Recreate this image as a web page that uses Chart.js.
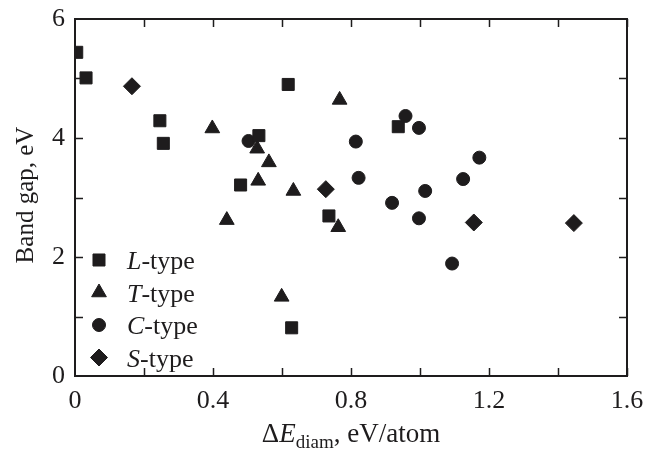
<!DOCTYPE html>
<html lang="en">
<head>
  <meta charset="UTF-8" />
  <title>Band gap vs diamond energy</title>
  <script src="https://cdn.jsdelivr.net/npm/chart.js"></script>
  <style>
    html, body {
      margin: 0;
      padding: 0;
      background: #fff;
    }
    #wrap {
      width: 646px;
      height: 450px;
    }
  </style>
</head>
<body>

<div id="wrap"><canvas id="gapChart" width="646" height="450"></canvas></div>

<script>
  // values
  const lX = [0.005, 0.032, 0.246, 0.256, 0.480, 0.533, 0.618, 0.736, 0.937, 0.628];
  const lY = [5.44, 5.01, 4.29, 3.91, 3.21, 4.04, 4.90, 2.69, 4.19, 0.81];

  const tX = [0.398, 0.528, 0.562, 0.531, 0.633, 0.440, 0.767, 0.763, 0.599];
  const tY = [4.16, 3.82, 3.59, 3.28, 3.11, 2.62, 4.64, 2.50, 1.33];

  const cX = [0.503, 0.814, 0.958, 0.997, 0.822, 1.172, 1.125, 1.015, 0.919, 0.997, 1.093];
  const cY = [3.95, 3.94, 4.37, 4.17, 3.33, 3.67, 3.31, 3.11, 2.91, 2.65, 1.89];

  const sX = [0.165, 0.727, 1.156, 1.446];
  const sY = [4.87, 3.14, 2.58, 2.57];

  const xLabels = [0, 0.4, 0.8, 1.2, 1.6];
  const yLabels = [0, 2, 4, 6];

  const legendNames = ["L", "T", "C", "S"];

  const ink = "#1e1c1d";
  const serif = "'Liberation Serif', 'DejaVu Serif', serif";

  function pts(xs, ys) {
    return xs.map((x, i) => ({ x: x, y: ys[i] }));
  }

  const series = [
    { name: "L", data: pts(lX, lY), style: "rect", r: 8.5 },
    { name: "T", data: pts(tX, tY), style: "triangle", r: 8.5 },
    { name: "C", data: pts(cX, cY), style: "circle", r: 6.5 },
    { name: "S", data: pts(sX, sY), style: "rectRot", r: 8.5 }
  ];

  const frame = {
    id: "frame",
    afterDraw(chart) {
      const ctx = chart.ctx;
      const a = chart.chartArea;
      const xs = chart.scales.x;
      const ys = chart.scales.y;
      ctx.save();
      ctx.strokeStyle = ink;
      ctx.lineWidth = 2;
      ctx.strokeRect(a.left, a.top, a.right - a.left, a.bottom - a.top);

      // inward ticks
      const tl = 8;
      ctx.lineWidth = 1.5;
      ctx.beginPath();
      for (let v = 0.2; v < 1.6; v += 0.2) {
        const px = Math.round(xs.getPixelForValue(v)) + 0.5;
        ctx.moveTo(px, a.bottom); ctx.lineTo(px, a.bottom - tl);
        ctx.moveTo(px, a.top); ctx.lineTo(px, a.top + tl);
      }
      for (let v = 1; v < 6; v += 1) {
        const py = Math.round(ys.getPixelForValue(v)) + 0.5;
        ctx.moveTo(a.left, py); ctx.lineTo(a.left + tl, py);
        ctx.moveTo(a.right, py); ctx.lineTo(a.right - tl, py);
      }
      ctx.stroke();

      // legend
      const lx = 99, ly0 = 260, dy = 32.5;
      series.forEach((s, i) => {
        const y = ly0 + i * dy;
        ctx.fillStyle = ink;
        ctx.strokeStyle = ink;
        ctx.lineWidth = 1;
        Chart.helpers.drawPoint(ctx, { pointStyle: s.style, radius: s.r, borderWidth: 1 }, lx, y);
        ctx.font = "italic 26px " + serif;
        ctx.textBaseline = "alphabetic";
        ctx.textAlign = "left";
        ctx.fillText(legendNames[i], 127, y + 9);
        const w = ctx.measureText(legendNames[i]).width;
        ctx.font = "26px " + serif;
        ctx.fillText("-type", 127 + w, y + 9);
      });

      // x title: ΔE_diam, eV/atom
      const parts = [
        { t: "\u0394", f: "27px " + serif, dy: 0 },
        { t: "E", f: "italic 27px " + serif, dy: 0 },
        { t: "diam", f: "19px " + serif, dy: 6 },
        { t: ", eV/atom", f: "27px " + serif, dy: 0 }
      ];
      let total = 0;
      parts.forEach(p => { ctx.font = p.f; p.w = ctx.measureText(p.t).width; total += p.w; });
      let x0 = (a.left + a.right) / 2 - total / 2;
      const base = 442;
      ctx.fillStyle = ink;
      ctx.textAlign = "left";
      ctx.textBaseline = "alphabetic";
      parts.forEach(p => {
        ctx.font = p.f;
        ctx.fillText(p.t, x0, base + p.dy);
        x0 += p.w;
      });

      // y title
      ctx.translate(33, 195);
      ctx.rotate(-Math.PI / 2);
      ctx.font = "25px " + serif;
      ctx.textAlign = "center";
      ctx.textBaseline = "alphabetic";
      ctx.fillText("Band gap, eV", 0, 0);
      ctx.restore();
    }
  };

  const ctx = document.getElementById("gapChart").getContext("2d");

  new Chart(ctx, {
    type: "scatter",
    data: {
      datasets: series.map(s => ({
        label: s.name + "-type",
        data: s.data,
        pointStyle: s.style,
        pointRadius: s.r,
        pointHoverRadius: s.r,
        backgroundColor: ink,
        borderColor: ink,
        borderWidth: 1,
        clip: 0
      }))
    },
    options: {
      responsive: false,
      animation: false,
      layout: { padding: { top: 19, right: 19, left: 0, bottom: 0 } },
      plugins: {
        legend: { display: false },
        tooltip: { enabled: false }
      },
      scales: {
        x: {
          type: "linear",
          min: 0,
          max: 1.6,
          afterBuildTicks: (scale) => { scale.ticks = xLabels.map(v => ({ value: v })); },
          afterFit: (scale) => {
            scale.height = 74;
            scale.paddingLeft = 0;
            scale.paddingRight = 0;
          },
          grid: { display: false, drawTicks: false },
          border: { display: false },
          ticks: {
            color: ink,
            padding: 10,
            maxRotation: 0,
            font: { family: serif, size: 26 },
            callback: (v) => v === 0 ? "0" : v.toFixed(1)
          }
        },
        y: {
          type: "linear",
          min: 0,
          max: 6,
          afterBuildTicks: (scale) => { scale.ticks = yLabels.map(v => ({ value: v })); },
          afterFit: (scale) => {
            scale.width = 75;
            scale.paddingTop = 0;
            scale.paddingBottom = 0;
          },
          grid: { display: false, drawTicks: false },
          border: { display: false },
          ticks: {
            color: ink,
            padding: 10,
            font: { family: serif, size: 26 },
            callback: (v) => String(v)
          }
        }
      }
    },
    plugins: [frame]
  });
</script>

</body>
</html>
